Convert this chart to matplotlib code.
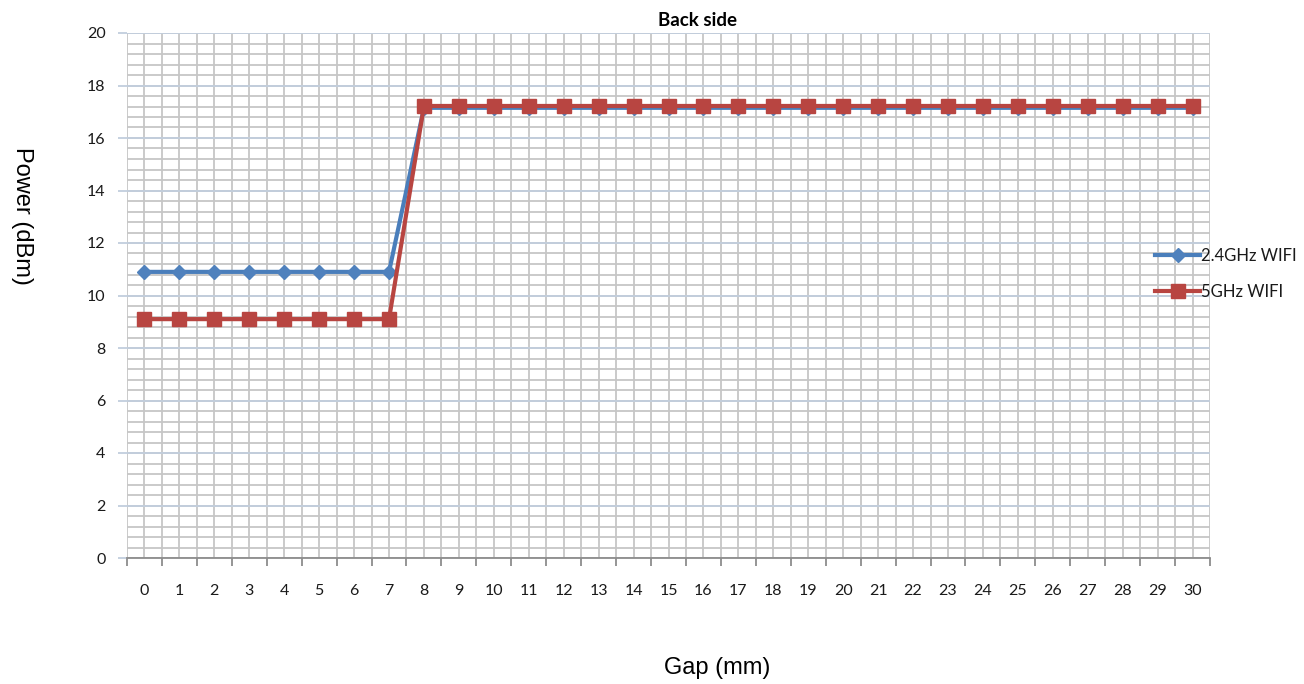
import numpy as np
import matplotlib
matplotlib.use("Agg")
from matplotlib import pyplot as plt

gap = list(range(0, 31))
wifi_24 = [10.9] * 8 + [17.15] * 23
wifi_5 = [9.1] * 8 + [17.22] * 23
series_names = ["2.4GHz WIFI", "5GHz WIFI"]
title = "Back side"
xlabel = "Gap (mm)"
ylabel = "Power (dBm)"

blue = "#4A7EBB"
red = "#B84541"
minor_grey = "#C6C6C6"
major_blue = "#C2CEDD"

fig = plt.figure(figsize=(13.04, 6.84), dpi=100)
ax = fig.add_axes([127 / 1304, 1 - 558 / 684, (1210 - 127) / 1304, (558 - 33) / 684])

# grid: vertical every half category, horizontal every 0.4 with blue majors
for xv in np.arange(-0.5, 30.51, 0.5):
    ax.axvline(xv, color=minor_grey, lw=1.3, zorder=0)
for yv in np.arange(0, 20.01, 0.4):
    ax.axhline(yv, color=minor_grey, lw=1.3, zorder=0)
for yv in range(2, 21, 2):
    ax.axhline(yv, color=major_blue, lw=1.3, zorder=0.5)

ax.plot(gap, wifi_24, color=blue, lw=3, marker="D", ms=7.5,
        mfc="#4F81BD", mec="#4F81BD", label=series_names[0], zorder=3)
ax.plot(gap, wifi_5, color=red, lw=3, marker="s", ms=10,
        mfc=red, mec=red, label=series_names[1], zorder=4)

ax.set_xlim(-0.5, 30.5)
ax.set_ylim(0, 20)

ax.set_xticks(gap)
ax.set_xticklabels([str(g) for g in gap], fontsize=11.5, family="Lato", color="#1A1A1A")
ax.set_xticks(np.arange(-0.5, 30.6, 1), minor=True)
ax.tick_params(axis="x", which="major", length=0, pad=19)
ax.tick_params(axis="x", which="minor", length=6, color="#8C8C8C", width=1.3)

ax.set_yticks(range(0, 21, 2))
ax.set_yticklabels([str(v) for v in range(0, 21, 2)], fontsize=11.5, family="Lato", color="#1A1A1A")
ax.tick_params(axis="y", length=6.5, color=major_blue, width=1.3, pad=9)

for s in ["top", "right", "left"]:
    ax.spines[s].set_visible(False)
ax.spines["bottom"].set_color("#8C8C8C")
ax.spines["bottom"].set_linewidth(1.3)

fig.text(697 / 1304, 1 - 21 / 684, title, ha="center", va="center",
         fontsize=13.5, fontweight="bold", family="Lato")
fig.text(717 / 1304, 1 - 668 / 684, xlabel, ha="center", va="center",
         fontsize=17, family="Liberation Sans")
fig.text(22 / 1304, 1 - 216 / 684, ylabel, ha="center", va="center",
         rotation=270, fontsize=17, family="Liberation Sans")

leg = ax.legend(loc="center left", bbox_to_anchor=(1155 / 1304, 1 - 274 / 684),
                bbox_transform=fig.transFigure, frameon=False,
                prop={"family": "Lato", "size": 12}, handlelength=2.7,
                handletextpad=0.05, labelspacing=1.2, borderpad=0, borderaxespad=0)
for t in leg.get_texts():
    t.set_color("#1A1A1A")

fig.savefig("out.png", dpi=100)
